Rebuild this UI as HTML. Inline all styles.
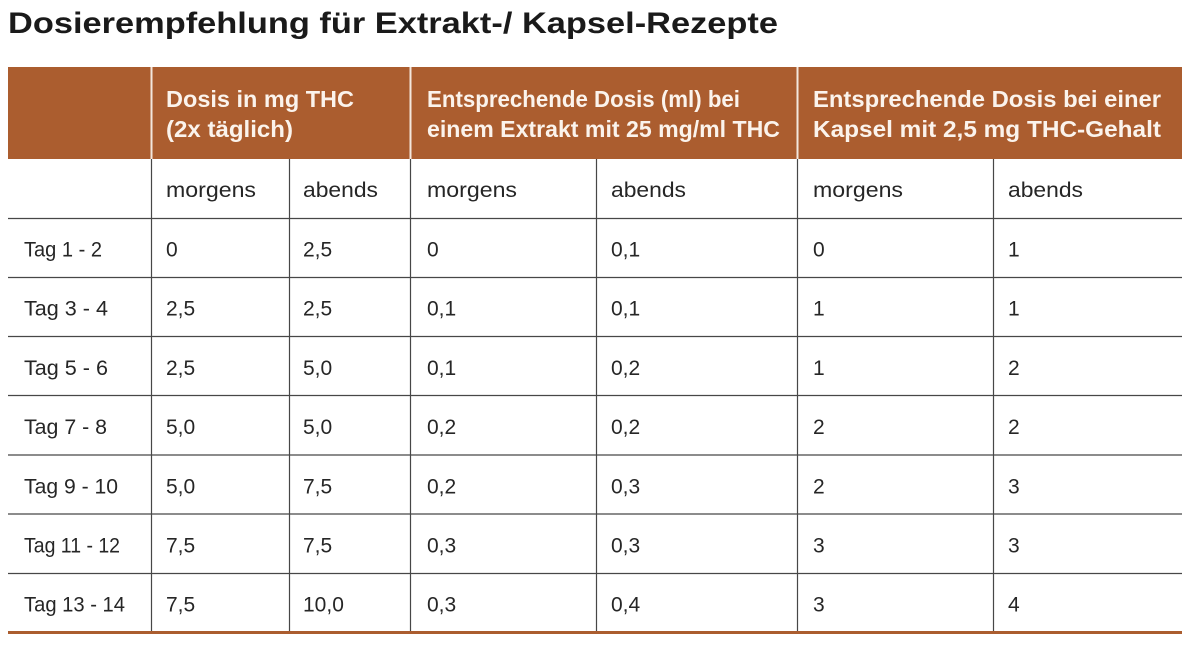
<!DOCTYPE html>
<html>
<head>
<meta charset="utf-8">
<style>
  html,body{margin:0;padding:0;background:#fff;}
  svg{display:block;}
  .t{font-family:"Liberation Sans",sans-serif;}
  .title{font-size:30px;font-weight:bold;fill:#1a1a1a;}
  .h{font-size:23px;font-weight:bold;fill:#fbf3ec;}
  .b{font-size:21px;fill:#262626;}
</style>
</head>
<body>
<svg width="1200" height="650" viewBox="0 0 1200 650" xmlns="http://www.w3.org/2000/svg">
  <rect x="0" y="0" width="1200" height="650" fill="#fff"/>
  <text class="t title" x="8" y="33" textLength="770" lengthAdjust="spacingAndGlyphs">Dosierempfehlung für Extrakt-/ Kapsel-Rezepte</text>

  <!-- header -->
  <rect x="8" y="67" width="1174" height="92" fill="#ab5d2f"/>
  <rect x="150.5" y="67" width="2" height="92" fill="#f3e6dc"/>
  <rect x="409.5" y="67" width="2" height="92" fill="#f3e6dc"/>
  <rect x="796.5" y="67" width="2" height="92" fill="#f3e6dc"/>

  <text class="t h" x="166" y="107" textLength="188" lengthAdjust="spacingAndGlyphs">Dosis in mg THC</text>
  <text class="t h" x="166" y="137" textLength="127" lengthAdjust="spacingAndGlyphs">(2x täglich)</text>
  <text class="t h" x="427" y="107" textLength="313" lengthAdjust="spacingAndGlyphs">Entsprechende Dosis (ml) bei</text>
  <text class="t h" x="427" y="137" textLength="353" lengthAdjust="spacingAndGlyphs">einem Extrakt mit 25 mg/ml THC</text>
  <text class="t h" x="813" y="107" textLength="348" lengthAdjust="spacingAndGlyphs">Entsprechende Dosis bei einer</text>
  <text class="t h" x="813" y="137" textLength="348" lengthAdjust="spacingAndGlyphs">Kapsel mit 2,5 mg THC-Gehalt</text>

  <!-- grid -->
  <g stroke="#474747" stroke-width="1.2" fill="none">
    <line x1="151.5" y1="159" x2="151.5" y2="631"/>
    <line x1="289.5" y1="159" x2="289.5" y2="631"/>
    <line x1="410.5" y1="159" x2="410.5" y2="631"/>
    <line x1="596.5" y1="159" x2="596.5" y2="631"/>
    <line x1="797.5" y1="159" x2="797.5" y2="631"/>
    <line x1="993.5" y1="159" x2="993.5" y2="631"/>
    <line x1="8" y1="218.5" x2="1182" y2="218.5"/>
    <line x1="8" y1="277.5" x2="1182" y2="277.5"/>
    <line x1="8" y1="336.5" x2="1182" y2="336.5"/>
    <line x1="8" y1="395.5" x2="1182" y2="395.5"/>
    <line x1="8" y1="455" x2="1182" y2="455"/>
    <line x1="8" y1="514" x2="1182" y2="514"/>
    <line x1="8" y1="573.5" x2="1182" y2="573.5"/>
  </g>
  <rect x="8" y="631" width="1174" height="3" fill="#ab5d2f"/>

  <!-- subheader -->
  <g class="t b">
    <text x="166" y="197" textLength="90" lengthAdjust="spacingAndGlyphs">morgens</text>
    <text x="303" y="197" textLength="75" lengthAdjust="spacingAndGlyphs">abends</text>
    <text x="427" y="197" textLength="90" lengthAdjust="spacingAndGlyphs">morgens</text>
    <text x="611" y="197" textLength="75" lengthAdjust="spacingAndGlyphs">abends</text>
    <text x="813" y="197" textLength="90" lengthAdjust="spacingAndGlyphs">morgens</text>
    <text x="1008" y="197" textLength="75" lengthAdjust="spacingAndGlyphs">abends</text>
  </g>

  <!-- rows -->
  <g class="t b">
    <text x="24" y="256.5" textLength="78" lengthAdjust="spacingAndGlyphs">Tag 1 - 2</text>
    <text x="166" y="256.5">0</text>
    <text x="303" y="256.5">2,5</text>
    <text x="427" y="256.5">0</text>
    <text x="611" y="256.5">0,1</text>
    <text x="813" y="256.5">0</text>
    <text x="1008" y="256.5">1</text>

    <text x="24" y="315.7" textLength="84" lengthAdjust="spacingAndGlyphs">Tag 3 - 4</text>
    <text x="166" y="315.7">2,5</text>
    <text x="303" y="315.7">2,5</text>
    <text x="427" y="315.7">0,1</text>
    <text x="611" y="315.7">0,1</text>
    <text x="813" y="315.7">1</text>
    <text x="1008" y="315.7">1</text>

    <text x="24" y="374.9" textLength="84" lengthAdjust="spacingAndGlyphs">Tag 5 - 6</text>
    <text x="166" y="374.9">2,5</text>
    <text x="303" y="374.9">5,0</text>
    <text x="427" y="374.9">0,1</text>
    <text x="611" y="374.9">0,2</text>
    <text x="813" y="374.9">1</text>
    <text x="1008" y="374.9">2</text>

    <text x="24" y="434.1" textLength="83" lengthAdjust="spacingAndGlyphs">Tag 7 - 8</text>
    <text x="166" y="434.1">5,0</text>
    <text x="303" y="434.1">5,0</text>
    <text x="427" y="434.1">0,2</text>
    <text x="611" y="434.1">0,2</text>
    <text x="813" y="434.1">2</text>
    <text x="1008" y="434.1">2</text>

    <text x="24" y="493.3" textLength="94" lengthAdjust="spacingAndGlyphs">Tag 9 - 10</text>
    <text x="166" y="493.3">5,0</text>
    <text x="303" y="493.3">7,5</text>
    <text x="427" y="493.3">0,2</text>
    <text x="611" y="493.3">0,3</text>
    <text x="813" y="493.3">2</text>
    <text x="1008" y="493.3">3</text>

    <text x="24" y="552.5" textLength="96" lengthAdjust="spacingAndGlyphs">Tag 11 - 12</text>
    <text x="166" y="552.5">7,5</text>
    <text x="303" y="552.5">7,5</text>
    <text x="427" y="552.5">0,3</text>
    <text x="611" y="552.5">0,3</text>
    <text x="813" y="552.5">3</text>
    <text x="1008" y="552.5">3</text>

    <text x="24" y="611.7" textLength="101" lengthAdjust="spacingAndGlyphs">Tag 13 - 14</text>
    <text x="166" y="611.7">7,5</text>
    <text x="303" y="611.7">10,0</text>
    <text x="427" y="611.7">0,3</text>
    <text x="611" y="611.7">0,4</text>
    <text x="813" y="611.7">3</text>
    <text x="1008" y="611.7">4</text>
  </g>
</svg>
</body>
</html>
